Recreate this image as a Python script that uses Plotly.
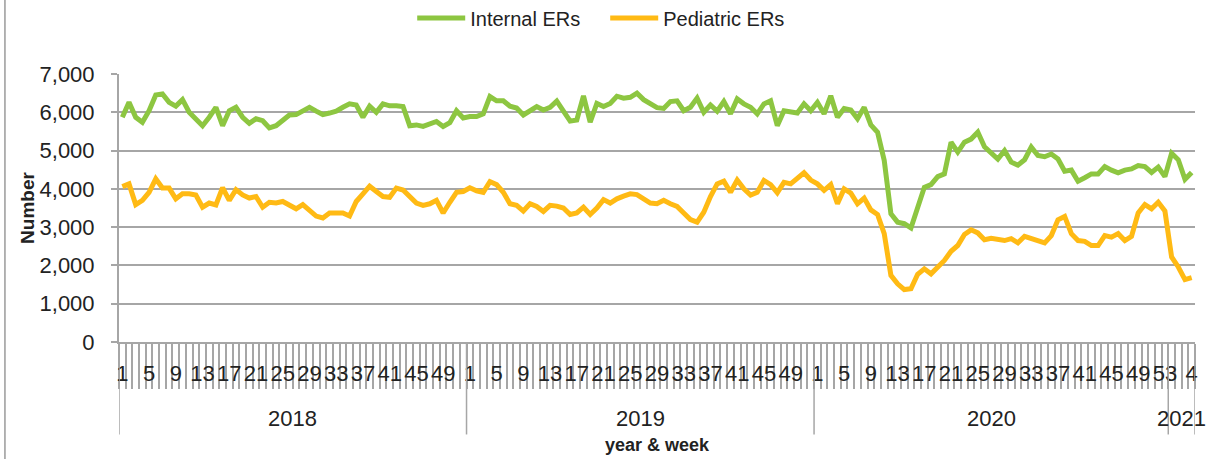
import plotly.graph_objects as go

# categories: year & week
years = [2018, 2019, 2020, 2021]
weeks_per_year = [52, 52, 53, 4]

# weekly ER visits
internal_ers = [
    # 2018
    5870, 6260, 5870, 5740, 6040, 6450, 6480, 6260, 6160, 6330,
    6000, 5830, 5650, 5870, 6130, 5650, 6040, 6130, 5870, 5710,
    5830, 5780, 5590, 5650, 5800, 5930, 5940, 6040, 6130, 6030,
    5940, 5980, 6030, 6130, 6220, 6190, 5870, 6160, 6000, 6220,
    6170, 6170, 6150, 5650, 5670, 5630, 5710, 5760, 5630, 5730,
    6040, 5850,
    # 2019
    5890, 5890, 5960, 6410, 6300, 6300, 6160, 6110, 5930, 6040,
    6150, 6060, 6130, 6290, 6040, 5770, 5800, 6430, 5740, 6230,
    6150, 6230, 6420, 6370, 6390, 6500, 6330, 6230, 6120, 6100,
    6280, 6300, 6040, 6130, 6370, 6000, 6190, 6030, 6280, 5960,
    6350, 6220, 6130, 5960, 6220, 6300, 5650, 6040, 6020, 5980,
    6220, 6040,
    # 2020
    6260, 5960, 6430, 5870, 6100, 6060, 5830, 6130, 5670, 5480,
    4740, 3350, 3130, 3090, 2980, 3520, 4040, 4110, 4320, 4390,
    5220, 4960, 5220, 5300, 5480, 5100, 4930, 4780, 5000, 4700,
    4620, 4760, 5090, 4870, 4840, 4910, 4780, 4460, 4490, 4200,
    4290, 4390, 4390, 4580, 4490, 4420, 4490, 4520, 4610, 4580,
    4430, 4570, 4320,
    # 2021
    4930, 4760, 4250, 4430,
]

pediatric_ers = [
    # 2018
    4060, 4130, 3590, 3700, 3910, 4260, 4020, 4020, 3740, 3870,
    3870, 3840, 3520, 3630, 3580, 4030, 3700, 3980, 3840, 3760,
    3800, 3520, 3650, 3630, 3670, 3580, 3480, 3590, 3430, 3290,
    3240, 3370, 3370, 3370, 3290, 3670, 3870, 4070, 3930, 3800,
    3780, 4020, 3970, 3780, 3630, 3570, 3610, 3700, 3370, 3650,
    3910, 3930,
    # 2019
    4030, 3950, 3910, 4190, 4110, 3910, 3610, 3570, 3420, 3610,
    3540, 3410, 3570, 3550, 3500, 3330, 3370, 3520, 3330, 3500,
    3720, 3630, 3740, 3810, 3870, 3850, 3740, 3630, 3610, 3700,
    3610, 3540, 3370, 3200, 3130, 3390, 3800, 4130, 4200, 3910,
    4230, 4000, 3840, 3910, 4220, 4110, 3900, 4170, 4130, 4260,
    4420, 4230,
    # 2020
    4130, 3960, 4110, 3610, 4000, 3890, 3610, 3760, 3450, 3330,
    2830, 1740, 1520, 1370, 1390, 1770, 1910, 1780, 1940, 2130,
    2370, 2520, 2810, 2930, 2850, 2670, 2710, 2680, 2650, 2700,
    2590, 2760, 2710, 2650, 2590, 2780, 3190, 3280, 2830, 2650,
    2630, 2520, 2520, 2780, 2740, 2830, 2650, 2760, 3370, 3590,
    3480, 3650, 3420,
    # 2021
    2220, 1960, 1630, 1680,
]

GREEN = "#8dc641"
ORANGE = "#ffba14"
GRID = "#a6a6a6"
FONT = "Liberation Sans, Arial, sans-serif"

# flatten categories
week_labels = []
for n in weeks_per_year:
    week_labels += [str(w) for w in range(1, n + 1)]
idx = list(range(len(week_labels)))
n_total = len(idx)

fig = go.Figure()
fig.add_trace(go.Scatter(x=idx, y=internal_ers, mode="lines", name="Internal ERs",
                         line=dict(color=GREEN, width=5)))
fig.add_trace(go.Scatter(x=idx, y=pediatric_ers, mode="lines", name="Pediatric ERs",
                         line=dict(color=ORANGE, width=5)))

# year group dividers and labels
shapes = []
annotations = []
start = 0
bounds = [0]
for yr, n in zip(years, weeks_per_year):
    annotations.append(dict(x=start + (n - 1) / 2, y=-0.285, xref="x", yref="paper",
                            text=str(yr), showarrow=False, yanchor="middle",
                            font=dict(size=22, color="#222")))
    start += n
    bounds.append(start)
for b in bounds:
    shapes.append(dict(type="line", xref="x", yref="paper", x0=b - 0.5, x1=b - 0.5,
                       y0=0, y1=-0.345, line=dict(color=GRID, width=1.5)))

# chart frame edge on the left
shapes.append(dict(type="line", xref="paper", yref="paper", x0=-0.106, x1=-0.106,
                   y0=-0.44, y1=1.28, line=dict(color="#9a9a9a", width=1.5)))

annotations.append(dict(x=0.5, y=-0.385, xref="paper", yref="paper", text="<b>year &amp; week</b>",
                        showarrow=False, yanchor="middle", font=dict(size=18, color="#222")))

fig.update_layout(
    width=1208, height=459,
    margin=dict(l=119, r=13, t=74, b=117, autoexpand=False),
    paper_bgcolor="white", plot_bgcolor="white",
    font=dict(family=FONT, color="#222"),
    showlegend=True,
    legend=dict(orientation="h", xref="container", yref="container",
                x=0.501, xanchor="center", y=0.961, yanchor="middle",
                font=dict(size=20), itemwidth=48, entrywidth=130),
    shapes=shapes,
    annotations=annotations,
)

fig.update_xaxes(
    range=[-0.5, n_total - 0.5], automargin=False,
    tickmode="array", tickvals=idx[::4], ticktext=week_labels[::4],
    ticks="", ticklabelstandoff=11,
    tickfont=dict(size=22, color="#222"),
    showgrid=False, zeroline=False,
    showline=True, linecolor=GRID, linewidth=2,
    minor=dict(tickmode="array", tickvals=[i - 0.5 for i in range(n_total + 1)],
               ticks="outside", ticklen=45, tickcolor=GRID, tickwidth=1.5, showgrid=False),
)

fig.update_yaxes(
    range=[0, 7000], dtick=1000, tickformat=",", automargin=False,
    ticks="outside", ticklen=6, tickcolor=GRID, tickwidth=2,
    ticklabelstandoff=12,
    tickfont=dict(size=22, color="#222"),
    showgrid=True, gridcolor=GRID, gridwidth=2,
    zeroline=False, showline=True, linecolor=GRID, linewidth=2,
    title=dict(text="<b>Number</b>", font=dict(size=19, color="#222"), standoff=0),
)

# page body has a default 8px margin; drop it so the figure sits at the corner
fig.write_html("out.html", config={"displayModeBar": False},
               post_script="document.body.style.margin='0';")
